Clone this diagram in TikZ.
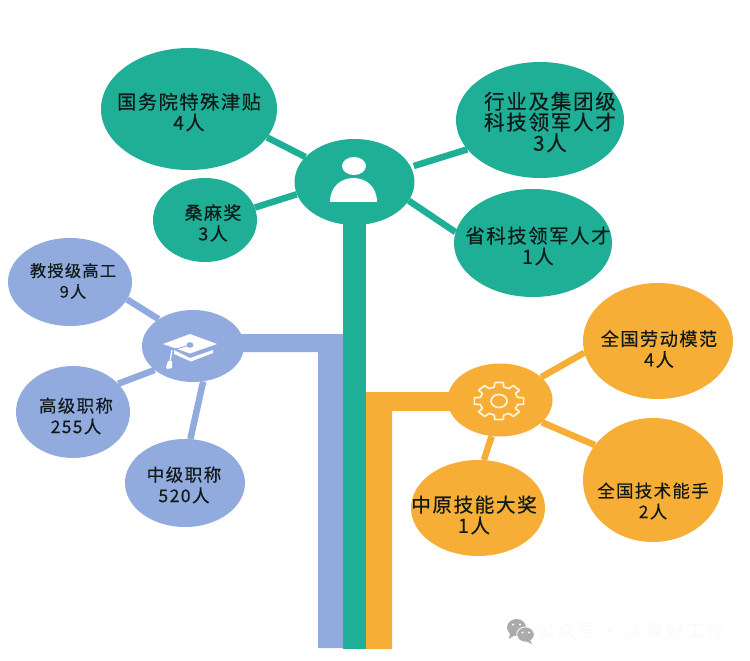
\documentclass[tikz,border=0pt]{standalone}
\usepackage{fontspec}
\setmainfont[FakeBold=0.35,LetterSpace=8]{Noto Sans CJK SC}
\newfontfamily\wmfont[LetterSpace=12]{Noto Sans CJK SC}
\definecolor{tgreen}{HTML}{1FAE96}
\definecolor{tblue}{HTML}{91ABDE}
\definecolor{torange}{HTML}{F6AE36}
\definecolor{ttext}{HTML}{101A18}
\definecolor{ticon}{HTML}{FDF3DC}
\definecolor{twm}{HTML}{ABABAB}
\definecolor{twmtext}{HTML}{FAFAFA}
\usetikzlibrary{shapes.geometric}
\tikzset{
  blob/.style={ellipse,inner sep=0pt},
  gblob/.style={blob,fill=tgreen},
  bblob/.style={blob,fill=tblue},
  oblob/.style={blob,fill=torange},
  lbl/.style={inner sep=0pt,align=center,text=ttext,font=\fontsize{#1}{20.8}\selectfont},
  glink/.style={draw=tgreen,line width=6.5pt},
  blink/.style={draw=tblue,line width=6.5pt},
  olink/.style={draw=torange,line width=6.5pt},
}
\begin{document}
\begin{tikzpicture}[x=1pt,y=-1pt]
\useasboundingbox (0,0) rectangle (750,661);
\fill[white] (0,0) rectangle (750,661);
% trunk end points
\coordinate (gtop) at (343,200);
\coordinate (gbot) at (366,649);
\coordinate (bcorner) at (343,334);
\coordinate (bbot) at (318,648);
\coordinate (binner) at (318,352);
\coordinate (ocorner) at (366,392);
\coordinate (obot) at (392,649);
\coordinate (oinner) at (392,411);
\coordinate (hubBc) at (193,346);
\coordinate (hubOc) at (500,400);
% trunks
\fill[tgreen] (gtop) rectangle (gbot);
\fill[tblue] (hubBc |- bcorner) -- (bcorner) -- (bcorner |- bbot) -- (bbot) -- (binner) -- (hubBc |- binner) -- cycle;
\fill[torange] (hubOc |- ocorner) -- (ocorner) -- (ocorner |- obot) -- (obot) -- (oinner) -- (hubOc |- oinner) -- cycle;
% hubs
\node[gblob,minimum width=120pt,minimum height=86pt] (hubG) at (354.5,182) {};
\node[bblob,minimum width=102pt,minimum height=72pt] (hubB) at (hubBc) {};
\node[oblob,minimum width=105pt,minimum height=73pt] (hubO) at (hubOc) {};
% leaves
\node[gblob,minimum width=176pt,minimum height=122pt] (a1) at (189,109) {};
\node[gblob,minimum width=104pt,minimum height=84pt] (a2) at (205,220) {};
\node[gblob,minimum width=168pt,minimum height=116pt] (a3) at (540,120) {};
\node[gblob,minimum width=158pt,minimum height=108pt] (a4) at (533,243) {};
\node[bblob,minimum width=124pt,minimum height=88pt] (b1) at (70,282) {};
\node[bblob,minimum width=114pt,minimum height=92pt] (b2) at (73,412) {};
\node[bblob,minimum width=120pt,minimum height=88pt] (b3) at (185,483) {};
\node[oblob,minimum width=150pt,minimum height=116pt] (c1) at (658,341) {};
\node[oblob,minimum width=140pt,minimum height=124pt] (c2) at (653,480) {};
\node[oblob,minimum width=134pt,minimum height=96pt] (c3) at (478,508) {};
% labels
\node[lbl=19.2] (a1t) at (189,112) {国务院特殊津贴\\4人};
\node[lbl=18] (a2t) at (213,223) {桑麻奖\\3人};
\node[lbl=20.6] (a3t) at (550,122) {行业及集团级\\科技领军人才\\3人};
\node[lbl=19.4] (a4t) at (538,246) {省科技领军人才\\1人};
\node[lbl=16.2] (b1t) at (73,281) {教授级高工\\9人};
\node[lbl=17.4] (b2t) at (76,416) {高级职称\\255人};
\node[lbl=17.6] (b3t) at (184,485) {中级职称\\520人};
\node[lbl=18.2] (c1t) at (659,349) {全国劳动模范\\4人};
\node[lbl=17.4] (c2t) at (653,501) {全国技术能手\\2人};
\node[lbl=19.6] (c3t) at (474,515) {中原技能大奖\\1人};
% connectors
\draw[glink] (hubG.153) -- (a1.-20);
\draw[glink] (hubG.192) -- (a2.14);
\draw[glink,shorten <=3pt] (hubG.15) -- (a3.202);
\draw[glink] (hubG.-19) -- (a4.172);
\draw[blink] (hubB.142) -- (b1.-17);
\draw[blink] (hubB.212) -- (b2.32);
\draw[blink] (hubB.-74) -- (b3.83);
\draw[olink] (hubO.29) -- (c1.189);
\draw[olink] (hubO.-28) -- (c2.149);
\draw[olink] (hubO.257) -- (c3.83);
% person icon
\fill[white] (354,166) ellipse [x radius=12,y radius=9];
\fill[white] (330,202) .. controls (330,170) and (377,170) .. (377,202) -- cycle;
% graduation cap
\fill[white] (174,350) -- (174,354) -- (191,361.5) -- (213,353) -- (213,350) -- (190,358) -- cycle;
\fill[white] (163,344) -- (190,334) -- (217,344) -- (190,353.5) -- cycle;
\fill[tblue] (190,345) ellipse [x radius=3.5,y radius=2.8];
\draw[tblue,line width=0.8pt] (190,345) -- (172,350);
\draw[white,line width=1.2pt] (172,350) -- (170,362);
\fill[white] (168,361) -- (172,361) -- (172,368) -- (167,369) -- (166,367) -- cycle;
% gear
\begin{scope}[shift={(499,401)},xscale=1.33]
\draw[ticon,line width=1.7pt,line join=round]
  (-14:14.5)
  \foreach \a in {0,45,...,315} {
    -- ({\a-14}:14.5) -- ({\a-10}:18.8) -- ({\a+10}:18.8) -- ({\a+14}:14.5)
  } -- cycle;
\end{scope}
\draw[ticon,line width=1.7pt] (499,401) ellipse [x radius=8,y radius=6.5];
% watermark
\fill[twm] (516.5,627.5) ellipse [x radius=9.5,y radius=8.5];
\fill[twm] (510,633) -- (509,639) -- (515,635) -- cycle;
\draw[white,fill=twm,line width=0.8pt] (525.5,634.5) ellipse [x radius=8.8,y radius=7.6];
\fill[twm] (530,640) -- (532,644) -- (526,641) -- cycle;
\fill[white] (513,624.5) circle (1.2) (520,624.5) circle (1.2) (522.5,632.5) circle (1.1) (529,632.5) circle (1.1);
\node[inner sep=0pt,text=twmtext,font=\wmfont\fontsize{18}{22}\selectfont] (wm) at (631,631) {公众号 · 大象好工作};
\end{tikzpicture}
\end{document}
